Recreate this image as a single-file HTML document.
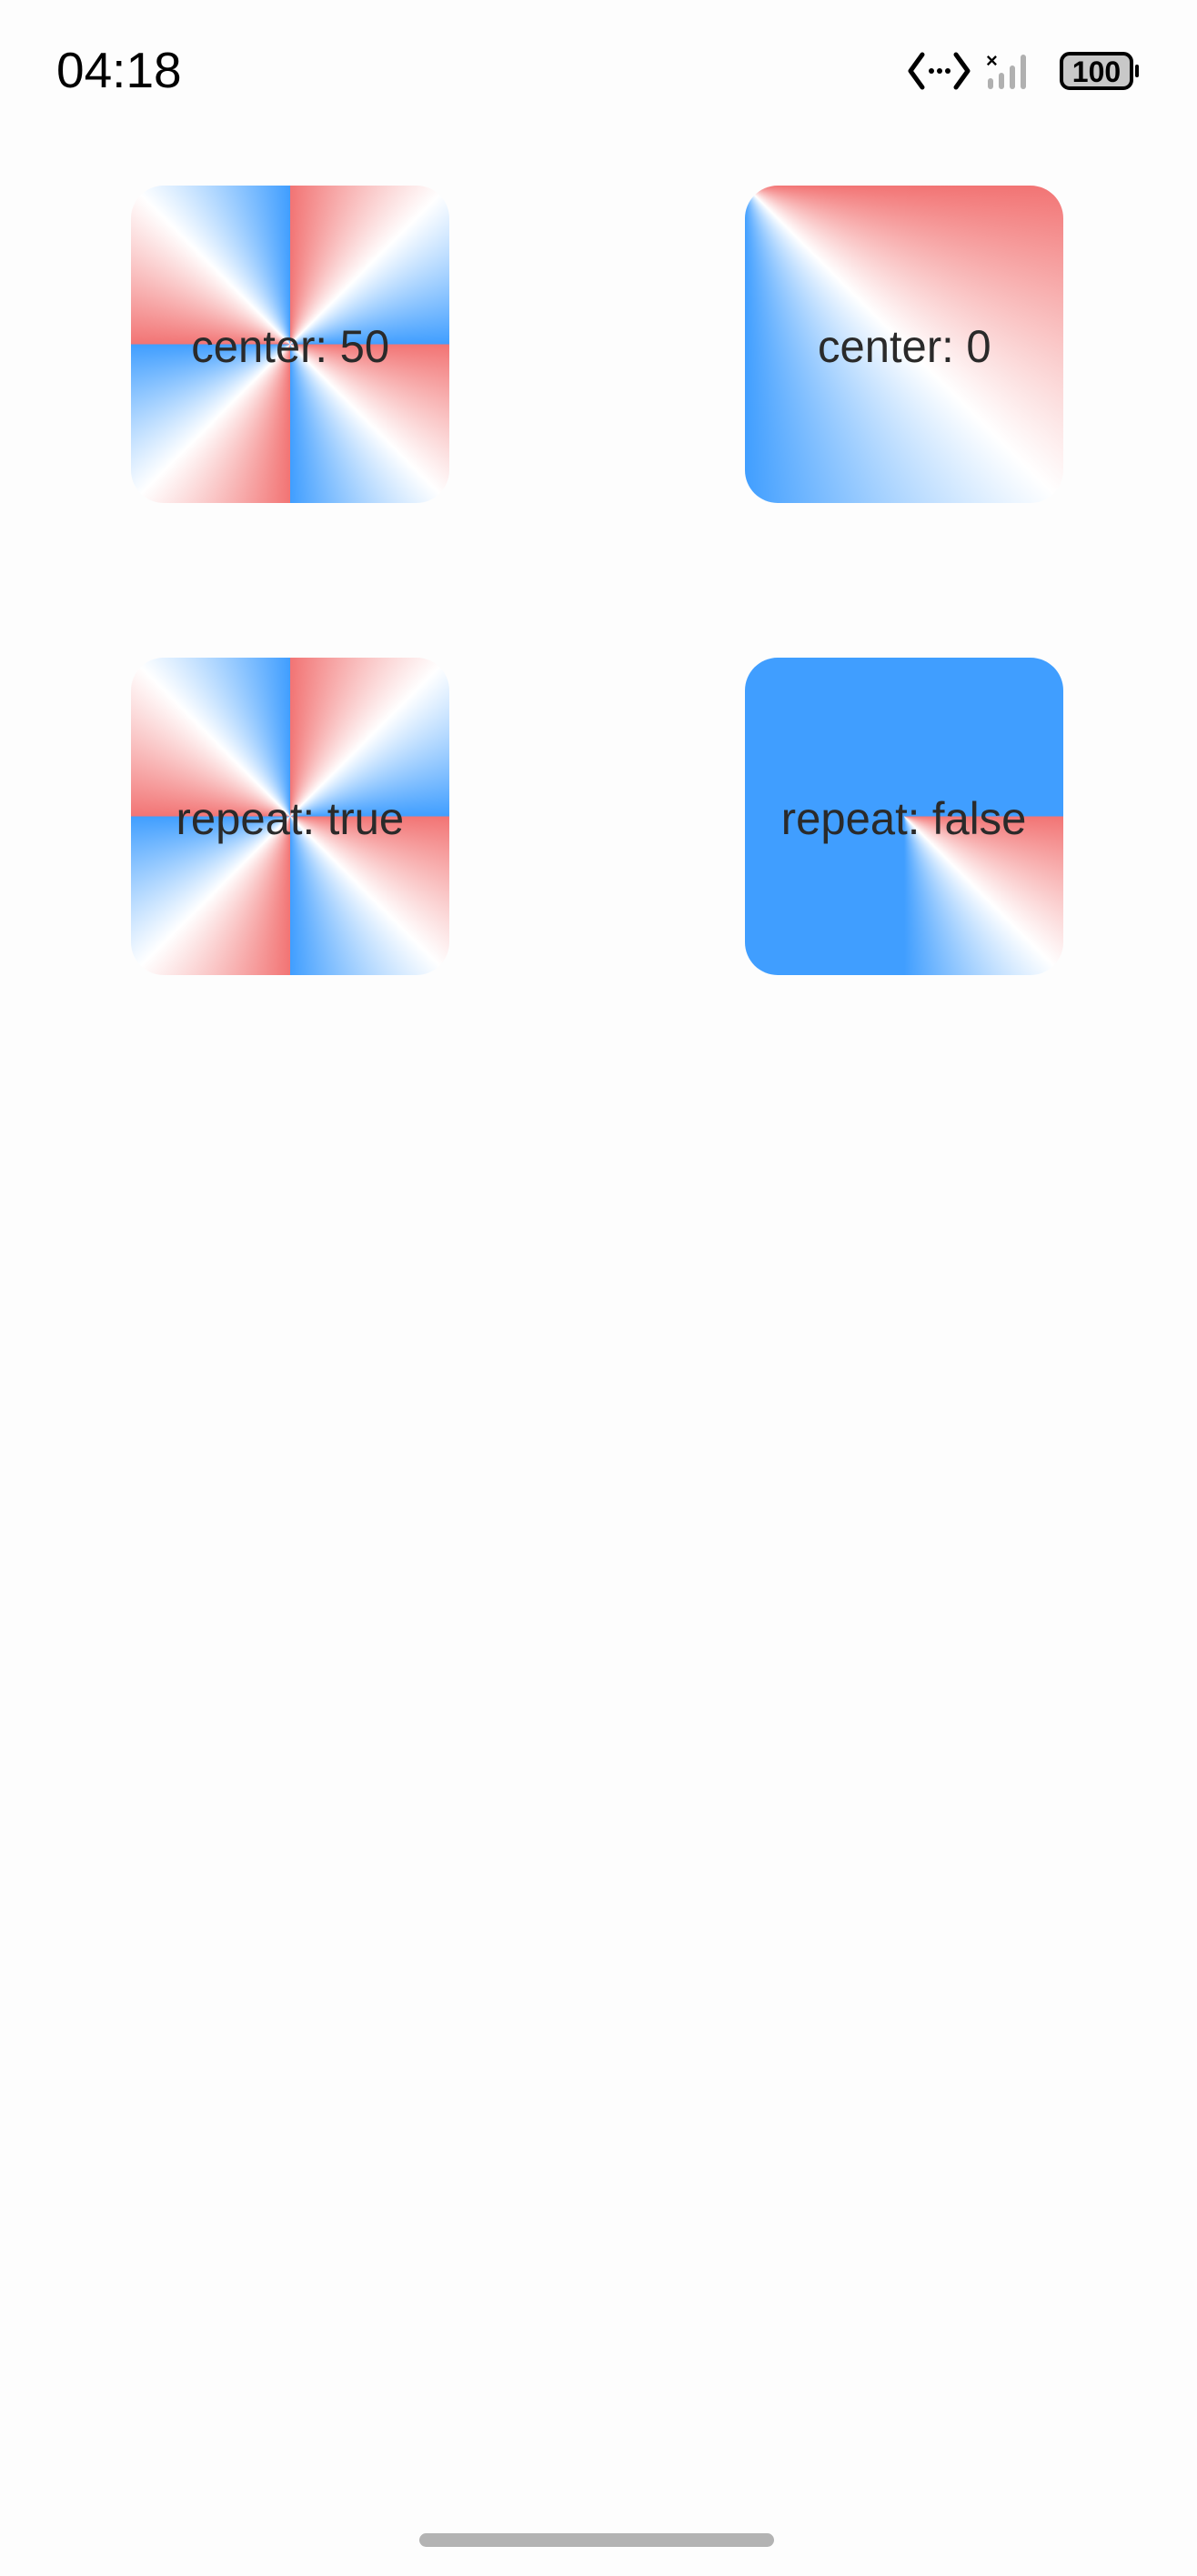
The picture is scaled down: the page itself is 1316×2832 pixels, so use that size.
<!DOCTYPE html>
<html><head><meta charset="utf-8"><style>
html,body{margin:0;padding:0;background:#fdfdfd;}
body{width:1316px;height:2832px;position:relative;overflow:hidden;font-family:"Liberation Sans",sans-serif;}
.time{position:absolute;left:62px;top:44px;font-size:55px;line-height:66px;color:#000;}
.box{position:absolute;width:350px;height:349px;border-radius:36px;display:flex;align-items:center;justify-content:center;font-size:50px;color:#2a2a2a;}
.box span{display:inline-block;transform:scaleX(0.98) translateY(2px);white-space:nowrap;}
.home{position:absolute;left:461px;top:2785px;width:390px;height:15px;border-radius:8px;background:#b3b3b3;}
</style></head><body>
<div class="time">04:18</div>
<svg style="position:absolute;left:990px;top:50px" width="270" height="56">
 <g fill="none" stroke="#000" stroke-width="5" stroke-linecap="round" stroke-linejoin="round">
  <polyline points="24,10 11,28 24,46"/><polyline points="61,10 74,28 61,46"/>
 </g>
 <circle cx="34" cy="28" r="3" fill="#000"/><circle cx="43" cy="28" r="3" fill="#000"/><circle cx="52" cy="28" r="3" fill="#000"/>
 <text x="94" y="24" font-size="22" font-weight="bold" font-family="Liberation Sans" fill="#000">×</text>
 <g fill="#b0b0b0"><rect x="96" y="36" width="6" height="12" rx="3"/><rect x="108" y="30" width="6" height="18" rx="3"/><rect x="120" y="22" width="6" height="26" rx="3"/><rect x="132" y="10" width="6" height="38" rx="3"/></g>
 <rect x="177" y="9" width="77" height="38" rx="9" fill="#c8c8c8" stroke="#000" stroke-width="4"/>
 <rect x="258" y="21" width="4" height="14" rx="2" fill="#000"/>
 <text x="215.5" y="40" font-size="32" font-weight="bold" text-anchor="middle" font-family="Liberation Sans" fill="#000">100</text>
</svg>
<div class="box" style="left:144px;top:204px;background:repeating-conic-gradient(#f27474 0deg,#ffffff 45deg,#409eff 90deg);"><span>center: 50</span></div>
<div class="box" style="left:819px;top:204px;background:conic-gradient(from 90deg at 0 0,#f27474 0deg,#ffffff 45deg,#409eff 90deg,#409eff 360deg);"><span>center: 0</span></div>
<div class="box" style="left:144px;top:723px;background:repeating-conic-gradient(#f27474 0deg,#ffffff 45deg,#409eff 90deg);"><span>repeat: true</span></div>
<div class="box" style="left:819px;top:723px;background:conic-gradient(#409eff 0deg,#409eff 90deg,#f27474 90deg,#ffffff 135deg,#409eff 180deg,#409eff 360deg);"><span>repeat: false</span></div>
<div class="home"></div>
</body></html>
